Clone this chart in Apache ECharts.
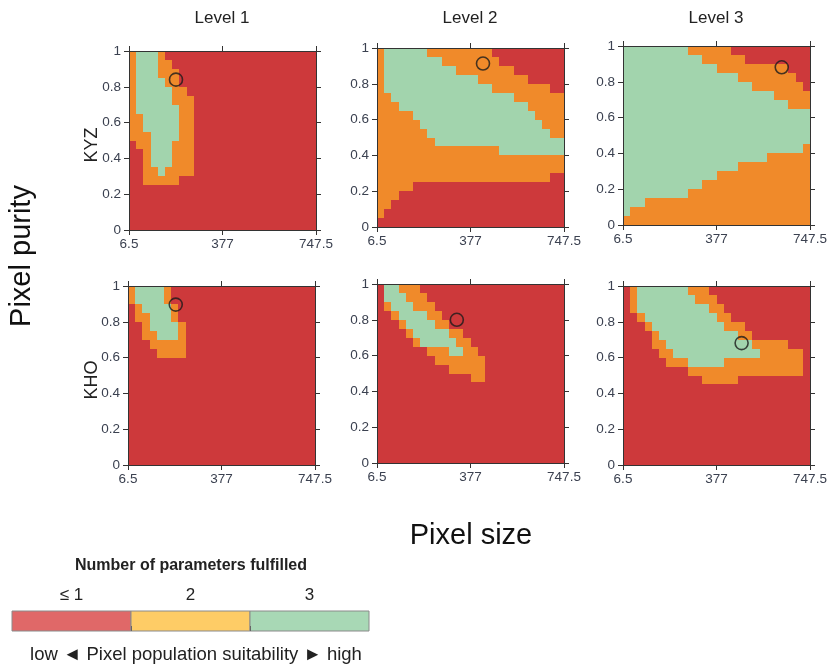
<!DOCTYPE html>
<html><head><meta charset="utf-8">
<script src="https://cdn.jsdelivr.net/npm/echarts@6/dist/echarts.min.js"></script>
<style>html,body{margin:0;padding:0;background:#fff}#c{width:830px;height:666px}</style>
</head><body><div id="c"></div>
<script>
// ---------- data ----------
const levels = ['Level 1', 'Level 2', 'Level 3'];
const sites = ['KYZ', 'KHO'];
const pixelSizeTicks = [6.5, 377, 747.5];
const pixelSizeEdges = [6.5, 35, 63.5, 92, 120.5, 149, 177.5, 206, 234.5, 263, 291.5, 320, 348.5, 377,
  405.5, 434, 462.5, 491, 519.5, 548, 576.5, 605, 633.5, 662, 690.5, 719, 747.5];
const purityEdges = [0, 0.05, 0.1, 0.15, 0.2, 0.25, 0.3, 0.35, 0.4, 0.45, 0.5,
  0.55, 0.6, 0.65, 0.7, 0.75, 0.8, 0.85, 0.9, 0.95, 1];
// class per cell, rows from purity 1 (top) to 0 (bottom), run-length: r = <=1, o = 2, g = 3
const kyzLevel1 = ['1o 3g 1o 21r','1o 3g 2o 20r','1o 3g 3o 19r','1o 4g 2o 19r','1o 5g 2o 18r',
  '1o 5g 3o 17r','1o 6g 2o 17r','2o 5g 2o 17r','2o 5g 2o 17r','3o 4g 2o 17r',
  '1r 2o 3g 3o 17r','2r 1o 3g 3o 17r','2r 1o 3g 3o 17r','2r 2o 1g 4o 17r','2r 5o 19r',
  '26r','26r','26r','26r','26r'];
const kyzLevel2 = ['1o 6g 9o 10r','1o 8g 8o 9r','1o 10g 8o 7r','1o 13g 7o 5r','1o 15g 8o 2r',
  '2o 17g 7o','3o 18g 5o','5o 17g 4o','6o 17g 3o','7o 17g 2o',
  '8o 18g','17o 9g','26o','26o','24o 2r',
  '5o 21r','3o 23r','2o 24r','1o 25r','26r'];
const kyzLevel3 = ['9g 6o 11r','11g 6o 9r','13g 10o 3r','16g 8o 2r','18g 7o 1r',
  '21g 5o','23g 3o','26g','26g','26g',
  '26g','25g 1o','20g 6o','16g 10o','13g 13o',
  '11g 15o','9g 17o','3g 23o','1g 25o','26o'];
const khoLevel1 = ['1o 4g 1o 20r','1o 4g 1o 20r','1r 1o 4g 1o 19r','1r 2o 3g 1o 19r','2r 1o 4g 1o 18r',
  '2r 2o 3g 1o 18r','3r 5o 18r','4r 4o 18r','26r','26r',
  '26r','26r','26r','26r','26r','26r','26r','26r','26r','26r'];
const khoLevel2 = ['1r 2g 3o 20r','1r 3g 3o 19r','1r 1o 3g 3o 18r','2r 1o 4g 2o 17r','3r 1o 4g 2o 16r',
  '4r 1o 5g 2o 14r','5r 1o 5g 2o 13r','7r 3o 2g 2o 12r','8r 7o 11r','10r 5o 11r',
  '13r 2o 11r','26r','26r','26r','26r','26r','26r','26r','26r','26r'];
const khoLevel3 = ['1r 1o 7g 3o 14r','1r 1o 8g 3o 13r','1r 1o 10g 2o 12r','2r 1o 10g 2o 11r','3r 1o 10g 3o 9r',
  '4r 1o 11g 2o 8r','4r 2o 12g 5o 3r','5r 2o 12g 6o 1r','6r 3o 5g 11o 1r','9r 16o 1r',
  '11r 5o 10r','26r','26r','26r','26r','26r','26r','26r','26r','26r'];
// observed pixel configuration [pixel size, purity]
const optimumKYZ = [[192.7, 0.84], [426.5, 0.913], [635.5, 0.881]];
const optimumKHO = [[195.8, 0.896], [322.8, 0.80], [476.5, 0.681]];
const legendLabels = ['\u2264 1', '2', '3'];
const legendBins = [0, 1, 2];

// ---------- styling ----------
const classCodes = { r: 1, o: 2, g: 3 };
const CELL_COLORS = { 1: '#CD393B', 2: '#F08A2A', 3: '#A2D4AD' };
const LEGEND_COLORS = ['#E06868', '#FECC66', '#A8D8B5'];
const FONT = '"Liberation Sans", Arial, "DejaVu Sans", sans-serif';
const AX = '#333';
const LBL = '#3b4150';

function expandRow(rle) {
  const out = [];
  rle.trim().split(/\s+/).forEach(tok => {
    const n = parseInt(tok, 10); const ch = tok.replace(/^\d+/, '');
    for (let i = 0; i < n; i++) out.push(classCodes[ch]);
  });
  return out;
}
function buildCells(rows) {
  const cells = [];
  const nRows = purityEdges.length - 1;
  rows.forEach((rle, r) => {
    const cls = expandRow(rle);
    const yi = nRows - 1 - r;
    cls.forEach((c, ci) => {
      cells.push([pixelSizeEdges[ci], purityEdges[yi], pixelSizeEdges[ci + 1], purityEdges[yi + 1], c]);
    });
  });
  return cells;
}

const panels = [
  { rows: kyzLevel1, opt: optimumKYZ[0], left: 129, top: 51 },
  { rows: kyzLevel2, opt: optimumKYZ[1], left: 377, top: 48 },
  { rows: kyzLevel3, opt: optimumKYZ[2], left: 623, top: 46 },
  { rows: khoLevel1, opt: optimumKHO[0], left: 128, top: 286 },
  { rows: khoLevel2, opt: optimumKHO[1], left: 377, top: 284 },
  { rows: khoLevel3, opt: optimumKHO[2], left: 623, top: 286 }
];
const PW = 187, PH = 179;

const grid = [], xAxis = [], yAxis = [], series = [];
panels.forEach((p, i) => {
  grid.push({ left: p.left, top: p.top, width: PW, height: PH, outerBoundsMode: 'none', containLabel: false });
  const base = { gridIndex: i, type: 'value', min: 6.5, max: 747.5, z: 5, splitLine: { show: false },
    axisLine: { show: true, onZero: false, lineStyle: { color: AX, width: 1 } },
    axisTick: { show: true, customValues: pixelSizeTicks, length: 5, lineStyle: { color: AX } } };
  xAxis.push(Object.assign({}, base, { position: 'bottom',
    axisLabel: { show: true, customValues: pixelSizeTicks, fontSize: 13.5, color: LBL, fontFamily: FONT, margin: 7 } }));
  xAxis.push(Object.assign({}, base, { position: 'top', axisLabel: { show: false } }));
  const ybase = { gridIndex: i, type: 'value', min: 0, max: 1, interval: 0.2, z: 5, splitLine: { show: false },
    axisLine: { show: true, onZero: false, lineStyle: { color: AX, width: 1 } },
    axisTick: { show: true, length: 5, lineStyle: { color: AX } } };
  yAxis.push(Object.assign({}, ybase, { position: 'left',
    axisLabel: { show: true, fontSize: 13.5, color: LBL, fontFamily: FONT, margin: 8 } }));
  yAxis.push(Object.assign({}, ybase, { position: 'right', axisLabel: { show: false } }));
  series.push({
    type: 'custom', xAxisIndex: 2 * i, yAxisIndex: 2 * i, data: buildCells(p.rows), silent: true, z: 1,
    renderItem: (params, api) => {
      const a = api.coord([api.value(0), api.value(3)]);
      const b = api.coord([api.value(2), api.value(1)]);
      const L = Math.round(a[0]), T = Math.round(a[1]), R = Math.round(b[0]), B = Math.round(b[1]);
      return { type: 'rect', shape: { x: L, y: T, width: R - L, height: B - T },
        style: { fill: CELL_COLORS[api.value(4)] } };
    }
  });
  series.push({
    type: 'scatter', xAxisIndex: 2 * i, yAxisIndex: 2 * i, data: [p.opt], symbol: 'circle', symbolSize: 13,
    z: 4, silent: true,
    itemStyle: { color: 'rgba(0,0,0,0)', borderColor: '#1b1b1b', borderWidth: 1.6 }
  });
});

// legend colour bar
const LG = panels.length;
grid.push({ left: 12, top: 611, width: 357, height: 20, outerBoundsMode: 'none', containLabel: false });
xAxis.push({ gridIndex: LG, type: 'value', min: 0, max: 3, position: 'top', z: 5, splitLine: { show: false },
  axisLine: { show: false },
  axisTick: { show: true, customValues: [1, 2], length: 5, lineStyle: { color: '#666' } },
  axisLabel: { show: true, customValues: [0.5, 1.5, 2.5], formatter: v => legendLabels[Math.floor(v)],
    fontSize: 17, color: '#222', fontFamily: FONT, margin: 7 } });
yAxis.push({ gridIndex: LG, type: 'value', min: 0, max: 1, show: false });
series.push({
  type: 'custom', xAxisIndex: 2 * LG, yAxisIndex: 2 * LG, silent: true,
  data: legendBins.map(b => [b, b + 1]),
  renderItem: (params, api) => {
    const a = api.coord([api.value(0), 1]);
    const b = api.coord([api.value(1), 0]);
    return { type: 'rect', shape: { x: a[0], y: a[1], width: b[0] - a[0], height: b[1] - a[1] },
      style: { fill: LEGEND_COLORS[params.dataIndex], stroke: '#8a8a8a', lineWidth: 1 } };
  }
});

const graphic = [];
const colCenters = [222, 470, 716];
levels.forEach((t, i) => graphic.push({ type: 'text', x: colCenters[i], y: 18,
  style: { text: t, font: '17px ' + FONT, fill: '#222', textAlign: 'center', textVerticalAlign: 'middle' } }));
const rowCenters = [145, 380];
sites.forEach((t, i) => graphic.push({ type: 'text', x: 92, y: rowCenters[i], rotation: Math.PI / 2,
  style: { text: t, font: '18px ' + FONT, fill: '#222', textAlign: 'center', textVerticalAlign: 'middle' } }));
graphic.push({ type: 'text', x: 22, y: 256, rotation: Math.PI / 2,
  style: { text: 'Pixel purity', font: '29px ' + FONT, fill: '#111', textAlign: 'center', textVerticalAlign: 'middle' } });
graphic.push({ type: 'text', x: 471, y: 536,
  style: { text: 'Pixel size', font: '29px ' + FONT, fill: '#111', textAlign: 'center', textVerticalAlign: 'middle' } });
graphic.push({ type: 'text', x: 191, y: 566,
  style: { text: 'Number of parameters fulfilled', font: '600 16px ' + FONT, fill: '#222', textAlign: 'center', textVerticalAlign: 'middle' } });
graphic.push({ type: 'text', x: 196, y: 655,
  style: { text: 'low \u25C4 Pixel population suitability \u25BA high', font: '18.5px ' + FONT, fill: '#222', textAlign: 'center', textVerticalAlign: 'middle' } });

const chart = echarts.init(document.getElementById('c'), null, { renderer: 'canvas' });
chart.setOption({ animation: false, backgroundColor: '#fff', grid, xAxis, yAxis, series, graphic });
</script></body></html>
